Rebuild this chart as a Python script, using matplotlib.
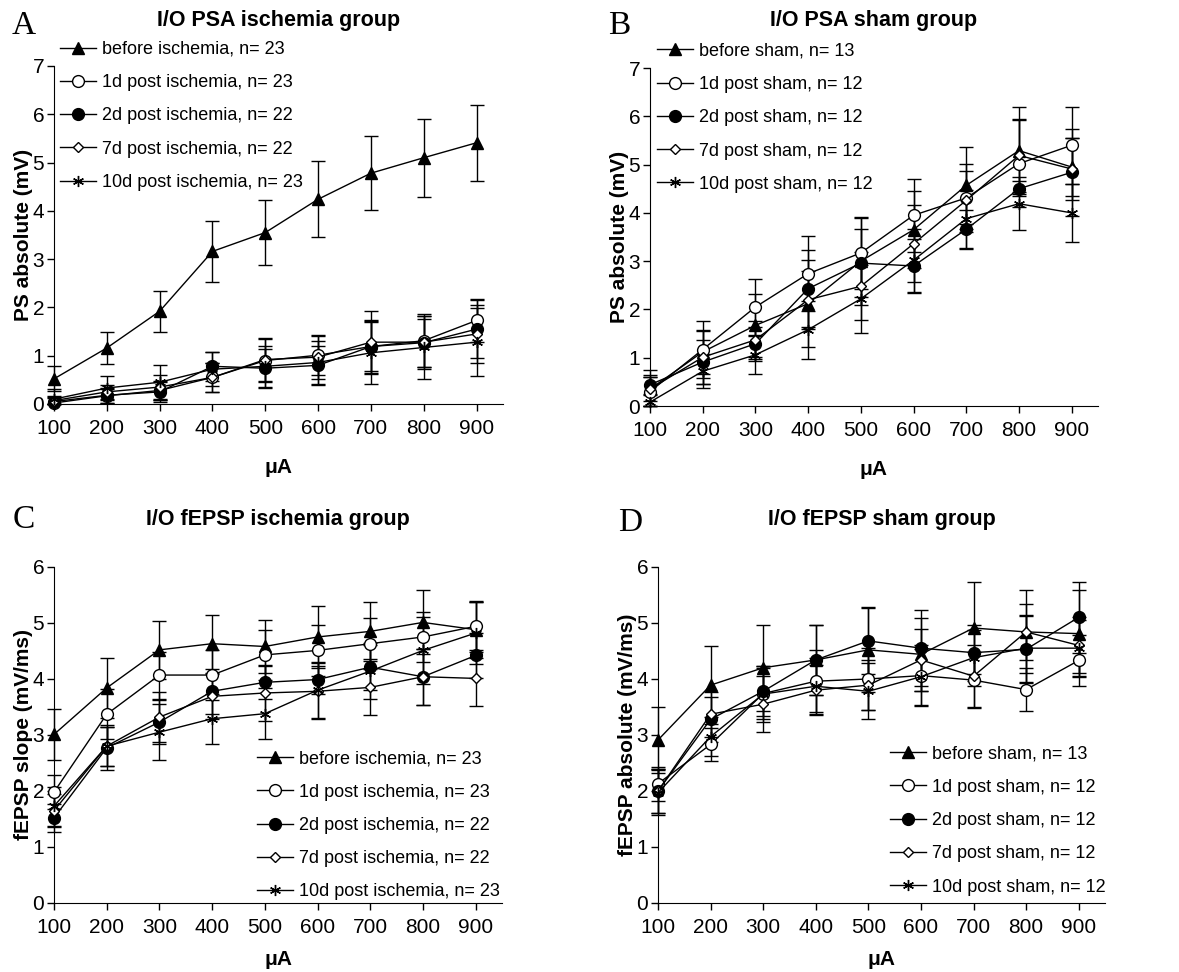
from matplotlib import pyplot as plt

##########################################################################
#
#   Data
#
##########################################################################

currents = [100, 200, 300, 400, 500, 600, 700, 800, 900]

# A: PS amplitude, ischemia group
psaIschLabels = ['before ischemia, n= 23', '1d post ischemia, n= 23',
                 '2d post ischemia, n= 22', '7d post ischemia, n= 22',
                 '10d post ischemia, n= 23']
psaIschBefore = [0.52, 1.16, 1.92, 3.16, 3.55, 4.24, 4.78, 5.10, 5.41]
psaIsch1d = [0.02, 0.17, 0.28, 0.55, 0.90, 1.01, 1.19, 1.31, 1.73]
psaIsch2d = [0.05, 0.18, 0.25, 0.78, 0.74, 0.80, 1.19, 1.27, 1.55]
psaIsch7d = [0.07, 0.25, 0.35, 0.55, 0.92, 0.97, 1.28, 1.28, 1.45]
psaIsch10d = [0.10, 0.33, 0.45, 0.72, 0.78, 0.86, 1.06, 1.17, 1.28]
psaIschBeforeSem = [0.26, 0.34, 0.42, 0.63, 0.67, 0.79, 0.77, 0.81, 0.79]
psaIsch1dSem = [0.10, 0.15, 0.20, 0.30, 0.45, 0.40, 0.55, 0.55, 0.45]
psaIsch2dSem = [0.10, 0.15, 0.20, 0.30, 0.40, 0.40, 0.50, 0.50, 0.60]
psaIsch7dSem = [0.10, 0.15, 0.25, 0.30, 0.45, 0.45, 0.65, 0.55, 0.60]
psaIsch10dSem = [0.20, 0.24, 0.36, 0.35, 0.42, 0.45, 0.65, 0.65, 0.70]

# B: PS amplitude, sham group
psaShamLabels = ['before sham, n= 13', '1d post sham, n= 12',
                 '2d post sham, n= 12', '7d post sham, n= 12',
                 '10d post sham, n= 12']
psaShamBefore = [0.35, 1.12, 1.67, 2.12, 3.00, 3.65, 4.57, 5.29, 4.95]
psaSham1d = [0.30, 1.17, 2.05, 2.74, 3.17, 3.95, 4.31, 5.02, 5.40]
psaSham2d = [0.44, 0.91, 1.29, 2.43, 2.96, 2.90, 3.66, 4.50, 4.84]
psaSham7d = [0.35, 1.01, 1.37, 2.20, 2.48, 3.36, 4.26, 5.19, 4.91]
psaSham10d = [0.08, 0.72, 1.06, 1.58, 2.22, 3.02, 3.88, 4.19, 4.00]
psaShamBeforeSem = [0.40, 0.45, 0.65, 0.90, 0.90, 0.80, 0.80, 0.90, 0.60]
psaSham1dSem = [0.30, 0.60, 0.58, 0.78, 0.75, 0.75, 0.70, 0.90, 0.80]
psaSham2dSem = [0.20, 0.45, 0.35, 0.80, 0.70, 0.55, 0.40, 0.15, 0.90]
psaSham7dSem = [0.25, 0.55, 0.40, 0.60, 0.70, 0.80, 0.60, 0.75, 0.65]
psaSham10dSem = [0.15, 0.35, 0.40, 0.60, 0.70, 0.65, 0.60, 0.55, 0.60]

# C: fEPSP slope, ischemia group
epspIschBefore = [3.01, 3.84, 4.52, 4.63, 4.58, 4.75, 4.85, 5.01, 4.88]
epspIsch1d = [1.98, 3.37, 4.07, 4.07, 4.43, 4.51, 4.63, 4.75, 4.94]
epspIsch2d = [1.52, 2.77, 3.23, 3.78, 3.94, 3.99, 4.21, 4.04, 4.42]
epspIsch7d = [1.65, 2.80, 3.32, 3.69, 3.75, 3.78, 3.85, 4.04, 4.01]
epspIsch10d = [1.73, 2.80, 3.05, 3.29, 3.38, 3.80, 4.14, 4.51, 4.82]
epspIschBeforeSem = [0.45, 0.53, 0.52, 0.52, 0.48, 0.55, 0.53, 0.57, 0.50]
epspIsch1dSem = [0.30, 0.45, 0.42, 0.45, 0.45, 0.45, 0.45, 0.45, 0.45]
epspIsch2dSem = [0.25, 0.40, 0.40, 0.40, 0.30, 0.25, 0.40, 0.50, 0.40]
epspIsch7dSem = [0.30, 0.35, 0.45, 0.40, 0.50, 0.50, 0.50, 0.50, 0.50]
epspIsch10dSem = [0.35, 0.35, 0.50, 0.45, 0.45, 0.50, 0.50, 0.60, 0.55]

# D: fEPSP, sham group
epspShamBefore = [2.91, 3.89, 4.20, 4.34, 4.52, 4.44, 4.91, 4.84, 4.81]
epspSham1d = [2.13, 2.83, 3.74, 3.96, 4.00, 4.06, 3.98, 3.81, 4.33]
epspSham2d = [2.00, 3.28, 3.78, 4.34, 4.68, 4.55, 4.47, 4.53, 5.10]
epspSham7d = [2.00, 3.37, 3.55, 3.80, 3.89, 4.34, 4.05, 4.84, 4.60]
epspSham10d = [1.97, 2.97, 3.73, 3.87, 3.78, 4.04, 4.38, 4.55, 4.55]
epspShamBeforeSem = [0.59, 0.69, 0.77, 0.63, 0.75, 0.65, 0.82, 0.74, 0.77]
epspSham1dSem = [0.30, 0.30, 0.45, 0.55, 0.55, 0.55, 0.50, 0.38, 0.45]
epspSham2dSem = [0.40, 0.40, 0.45, 0.62, 0.60, 0.68, 0.50, 0.60, 0.63]
epspSham7dSem = [0.40, 0.40, 0.50, 0.45, 0.45, 0.55, 0.55, 0.50, 0.50]
epspSham10dSem = [0.40, 0.35, 0.50, 0.50, 0.50, 0.50, 0.50, 0.60, 0.50]

##########################################################################
#
#   Style
#
##########################################################################

plt.rcParams['font.family'] = ['Liberation Sans', 'DejaVu Sans']

# marker, size, face colour for each series (before, 1d, 2d, 7d, 10d)
markers = [('^', 8, 'black'), ('o', 8.5, 'white'), ('o', 8.5, 'black'),
           ('D', 5.5, 'white'), ((6, 2, 0), 8, 'black')]

##########################################################################
#
#   Functions
#
##########################################################################


def drawPanel(ax, series, sems, labels, ymax, ylabel, legPos, xpad=14):
    for ys, err in zip(series, sems):
        # error bars stop at the x axis
        lower = [min(e, y) for y, e in zip(ys, err)]
        ax.errorbar(currents, ys, yerr=[lower, err], fmt='none',
                    ecolor='black', elinewidth=1, capsize=5, capthick=1,
                    zorder=2, clip_on=False)
    for i, ys in enumerate(series):
        m, ms, fc = markers[i]
        ax.plot(currents, ys, color='black', lw=1, marker=m, ms=ms,
                mfc=fc, mec='black', mew=1, label=labels[i], zorder=3,
                clip_on=False)

    ax.set_xlim(100, 950)
    ax.set_ylim(0, ymax)
    ax.set_xticks(currents)
    ax.set_yticks(range(0, ymax + 1))
    ax.spines['top'].set_visible(False)
    ax.spines['right'].set_visible(False)
    ax.tick_params(labelsize=15, length=5, width=1)
    ax.tick_params(axis='x', pad=6)
    ax.tick_params(axis='y', pad=2)
    ax.set_xlabel('μA', fontsize=15, fontweight='bold', labelpad=xpad)
    ax.set_ylabel(ylabel, fontsize=15, fontweight='bold', labelpad=0)

    fig = ax.figure
    ax.legend(loc='upper left', bbox_to_anchor=legPos,
              bbox_transform=fig.transFigure, frameon=False, fontsize=13,
              handlelength=2.0, handletextpad=0.3, labelspacing=0.9,
              borderpad=0, borderaxespad=0, numpoints=1)


def addTitle(fig, ax, text, y):
    box = ax.get_position()
    fig.text((box.x0 + box.x1) / 2, y, text, ha='center', va='center',
             fontsize=15.5, fontweight='bold')


##########################################################################
#
#   Figure
#
##########################################################################

fig = plt.figure(figsize=(11.79, 9.72), dpi=100)

axA = fig.add_axes([0.0458, 0.5844, 0.3808, 0.3477])
axB = fig.add_axes([0.5513, 0.5823, 0.3800, 0.3477])
axC = fig.add_axes([0.0458, 0.0710, 0.3800, 0.3457])
axD = fig.add_axes([0.5581, 0.0710, 0.3791, 0.3457])

drawPanel(axA, [psaIschBefore, psaIsch1d, psaIsch2d, psaIsch7d, psaIsch10d],
          [psaIschBeforeSem, psaIsch1dSem, psaIsch2dSem, psaIsch7dSem,
           psaIsch10dSem],
          psaIschLabels, 7, 'PS absolute (mV)', (0.0509, 0.958))
drawPanel(axB, [psaShamBefore, psaSham1d, psaSham2d, psaSham7d, psaSham10d],
          [psaShamBeforeSem, psaSham1dSem, psaSham2dSem, psaSham7dSem,
           psaSham10dSem],
          psaShamLabels, 7, 'PS absolute (mV)', (0.5573, 0.956))
drawPanel(axC, [epspIschBefore, epspIsch1d, epspIsch2d, epspIsch7d,
                epspIsch10d],
          [epspIschBeforeSem, epspIsch1dSem, epspIsch2dSem, epspIsch7dSem,
           epspIsch10dSem],
          psaIschLabels, 6, 'fEPSP slope (mV/ms)', (0.218, 0.228), xpad=9)
drawPanel(axD, [epspShamBefore, epspSham1d, epspSham2d, epspSham7d,
                epspSham10d],
          [epspShamBeforeSem, epspSham1dSem, epspSham2dSem, epspSham7dSem,
           epspSham10dSem],
          psaShamLabels, 6, 'fEPSP absolute (mV/ms)', (0.755, 0.233), xpad=9)

addTitle(fig, axA, 'I/O PSA ischemia group', 0.979)
addTitle(fig, axB, 'I/O PSA sham group', 0.979)
addTitle(fig, axC, 'I/O fEPSP ischemia group', 0.466)
addTitle(fig, axD, 'I/O fEPSP sham group', 0.466)

for letter, x, y in [('A', 0.010, 0.974), ('B', 0.516, 0.974),
                     ('C', 0.011, 0.465), ('D', 0.524, 0.462)]:
    fig.text(x, y, letter, ha='left', va='center', fontsize=24,
             family='Liberation Serif')

fig.savefig('out.png', dpi=100)
